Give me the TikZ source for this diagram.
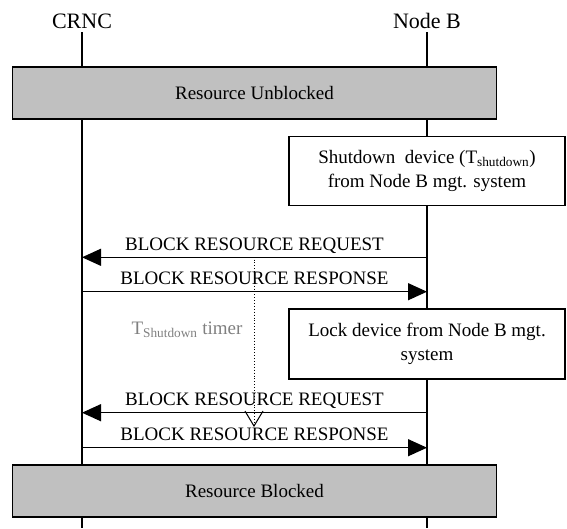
\documentclass[tikz,border=0pt]{standalone}
\usepackage{fontspec}
\setmainfont{Liberation Serif}
\usetikzlibrary{arrows.meta}

\definecolor{boxgray}{RGB}{192,192,192}
\definecolor{timergray}{RGB}{128,128,128}

\begin{document}
\begin{tikzpicture}[x=1pt,y=-1pt,
  every node/.style={font=\fontsize{19}{23.7}\selectfont},
  entity/.style={font=\fontsize{22}{26}\selectfont, anchor=base, inner sep=0pt, outer sep=4pt},
  lifeline/.style={line width=1.3pt},
  statebox/.style={draw, line width=1.5pt, fill=boxgray, minimum width=484pt, minimum height=52pt, inner sep=0pt},
  actionbox/.style={draw, line width=1.5pt, fill=white, minimum width=276pt, align=center, inner sep=0pt},
  msg/.style={line width=1.3pt, -{Triangle[length=19pt,width=17pt]}},
  msglabel/.style={anchor=base, yshift=7pt, inner sep=0pt}
]
  \def\xC{82}
  \def\xB{427}
  \def\xM{254.5}

  \useasboundingbox (0,0) rectangle (567,528);

  % Entities and lifelines
  \node[entity] (crnc) at (\xC,28) {CRNC};
  \node[entity] (nodeb) at (\xB,28) {Node B};
  \coordinate (crnc-end) at (\xC,528);
  \coordinate (nodeb-end) at (\xB,528);
  \draw[lifeline] (crnc.south) -- (crnc-end);
  \draw[lifeline] (nodeb.south) -- (nodeb-end);

  % Message end points on the lifelines
  \foreach \name/\y in {reqA/257.3, rspA/291.7, reqB/412.7, rspB/447.7} {
    \coordinate (\name-crnc) at (\xC,\y);
    \coordinate (\name-nodeb) at (\xB,\y);
  }

  % States
  \node[statebox] (unblocked) at (\xM,93) {Resource Unblocked};
  \node[statebox] (blocked) at (\xM,491) {Resource Blocked};

  % Node B actions
  \node[actionbox, minimum height=69pt] (shutdown) at (\xB,171)
    {Shutdown\ \ device (T\textsubscript{shutdown})\\from Node B mgt. system};
  \node[actionbox, minimum height=70pt] (lock) at (\xB,344)
    {Lock device from Node B mgt.\\system};

  % Messages
  \draw[msg] (reqA-nodeb) -- node[msglabel] (reqA-lbl) {BLOCK RESOURCE REQUEST} (reqA-crnc);
  \draw[msg] (rspA-crnc) -- node[msglabel] (rspA-lbl) {BLOCK RESOURCE RESPONSE} (rspA-nodeb);
  \draw[msg] (reqB-nodeb) -- node[msglabel] (reqB-lbl) {BLOCK RESOURCE REQUEST} (reqB-crnc);
  \draw[msg] (rspB-crnc) -- node[msglabel] (rspB-lbl) {BLOCK RESOURCE RESPONSE} (rspB-nodeb);

  % Shutdown timer
  \coordinate (timer-start) at (254,259.5);
  \coordinate (timer-end) at (254,427);
  \draw[line width=0.9pt, dotted, -{Straight Barb[length=15pt,width=18pt,line width=1pt]}] (timer-start) -- (timer-end);
  \node[text=timergray] (timer) at (187,330) {T\textsubscript{Shutdown} timer};
\end{tikzpicture}
\end{document}
